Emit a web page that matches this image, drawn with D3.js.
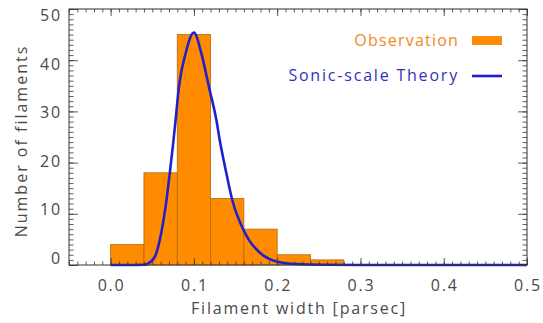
<!DOCTYPE html>
<html>
<head>
<meta charset="utf-8">
<script src="https://cdn.jsdelivr.net/npm/d3@7"></script>
<style>
  html, body { margin: 0; padding: 0; background: #fff; }
  svg { display: block; }
  text { font-family: "Open Sans", "DejaVu Sans", sans-serif; }
</style>
</head>
<body>
<svg id="chart" width="543" height="323"></svg>
<script>
// Histogram of measured filament widths (bin edges in parsec, counts per bin)
const binStart = [0.00, 0.04, 0.08, 0.12, 0.16, 0.20, 0.24];
const binEnd   = [0.04, 0.08, 0.12, 0.16, 0.20, 0.24, 0.28];
const binCount = [4, 18, 45, 13, 7, 2, 1];

// Sonic-scale theory prediction, sampled along the width axis
const theoryWidth = [0.000, 0.020, 0.040, 0.044, 0.053, 0.059, 0.066, 0.071, 0.075, 0.078, 0.082, 0.090, 0.100,
                     0.109, 0.118, 0.127, 0.131, 0.139, 0.146, 0.156, 0.166, 0.180, 0.200, 0.224, 0.260, 0.300, 0.400, 0.500];
const theoryCount = [0, 0, 0.05, 0.2, 1.6, 4.9, 11.4, 17.9, 23.6, 28.3, 34.8, 41.3, 45.4,
                     41.3, 34.8, 28.3, 24.4, 17.9, 12.7, 8.1, 4.9, 2.3, 0.65, 0.2, 0.05, 0, 0, 0];

const xTicks = [0.0, 0.1, 0.2, 0.3, 0.4, 0.5];
const yTicks = [0, 10, 20, 30, 40, 50];
const legendLabels = ["Observation", "Sonic-scale Theory"];

const orange = "#ff8c00";
const blue = "#2020d0";
const ink = "#333";

const svg = d3.select("#chart");
const plotLeft = 69, plotRight = 527, plotTop = 9, plotBottom = 265;

const x = d3.scaleLinear().domain([-0.05, 0.5]).range([plotLeft, plotRight]);
const y = d3.scaleLinear().domain([0, 50]).range([plotBottom, plotTop]);
// baselines of the y tick labels (they sit a little inside the tick span)
const yLabel = d3.scaleLinear().domain([0, 50]).range([264, 21]);

// bars
svg.append("g").selectAll("rect")
  .data(binCount)
  .join("rect")
  .attr("x", (d, i) => x(binStart[i]))
  .attr("y", d => y(d))
  .attr("width", (d, i) => x(binEnd[i]) - x(binStart[i]))
  .attr("height", d => y(0) - y(d))
  .attr("fill", orange)
  .attr("stroke", "#b8670f")
  .attr("stroke-width", 0.8);

// theory curve
const pts = theoryWidth.map((w, i) => [w, theoryCount[i]]);
svg.append("path")
  .datum(pts)
  .attr("fill", "none")
  .attr("stroke", blue)
  .attr("stroke-width", 2.6)
  .attr("d", d3.line().x(d => x(d[0])).y(d => y(d[1])).curve(d3.curveMonotoneX));

// frame with inward ticks on all sides
const xMinor = d3.range(-0.05, 0.5001, 0.01).map(v => +v.toFixed(3));
const yMinor = d3.range(0, 50.001, 1);

function inwardAxis(axisFn, scale, majors, minors, majorLen, minorLen, tr) {
  const gMin = svg.append("g").attr("transform", tr)
    .call(axisFn(scale).tickValues(minors).tickSize(minorLen).tickFormat(""));
  const gMaj = svg.append("g").attr("transform", tr)
    .call(axisFn(scale).tickValues(majors).tickSize(majorLen).tickFormat(""));
  [gMin, gMaj].forEach(g => {
    g.select(".domain").remove();
    g.selectAll("line").attr("stroke", ink).attr("stroke-width", 0.8);
  });
}
// bottom & top (ticks point into the plot)
inwardAxis(d3.axisTop, x, xTicks, xMinor, 7, 3.5, `translate(0,${plotBottom})`);
inwardAxis(d3.axisBottom, x, xTicks, xMinor, 7, 3.5, `translate(0,${plotTop})`);
// left & right
inwardAxis(d3.axisRight, y, yTicks, yMinor, 9, 4.5, `translate(${plotLeft},0)`);
inwardAxis(d3.axisLeft, y, yTicks, yMinor, 9, 4.5, `translate(${plotRight},0)`);

svg.append("rect")
  .attr("x", plotLeft).attr("y", plotTop)
  .attr("width", plotRight - plotLeft).attr("height", plotBottom - plotTop)
  .attr("fill", "none").attr("stroke", ink).attr("stroke-width", 1);

// tick labels
const labelStyle = sel => sel.attr("fill", "#4a4a4a").attr("font-size", 16).attr("letter-spacing", 1.8);
svg.append("g").selectAll("text")
  .data(xTicks).join("text")
  .attr("x", d => x(d) + 1).attr("y", 291)
  .attr("text-anchor", "middle")
  .call(labelStyle)
  .text(d => d.toFixed(1));

svg.append("g").selectAll("text")
  .data(yTicks).join("text")
  .attr("x", 62).attr("y", d => yLabel(d))
  .attr("text-anchor", "end")
  .call(labelStyle)
  .text(d => d);

// axis titles
svg.append("text")
  .attr("x", (plotLeft + plotRight) / 2 + 1).attr("y", 314)
  .attr("text-anchor", "middle")
  .call(labelStyle)
  .text("Filament width [parsec]");

svg.append("text")
  .attr("transform", `translate(27,141) rotate(-90)`)
  .attr("text-anchor", "middle")
  .call(labelStyle)
  .attr("letter-spacing", 2)
  .text("Number of filaments");

// legend
const legend = svg.append("g");
legend.append("text")
  .attr("x", 459).attr("y", 46)
  .attr("text-anchor", "end")
  .attr("font-size", 16).attr("letter-spacing", 1.2)
  .attr("fill", "#ee8a1e")
  .text(legendLabels[0]);
legend.append("rect")
  .attr("x", 472).attr("y", 36).attr("width", 30).attr("height", 9)
  .attr("fill", orange);

legend.append("text")
  .attr("x", 459).attr("y", 81)
  .attr("text-anchor", "end")
  .attr("font-size", 16).attr("letter-spacing", 1.8)
  .attr("fill", "#3232b8")
  .text(legendLabels[1]);
legend.append("line")
  .attr("x1", 472).attr("x2", 502).attr("y1", 76).attr("y2", 76)
  .attr("stroke", blue).attr("stroke-width", 2.6);
</script>
</body>
</html>
